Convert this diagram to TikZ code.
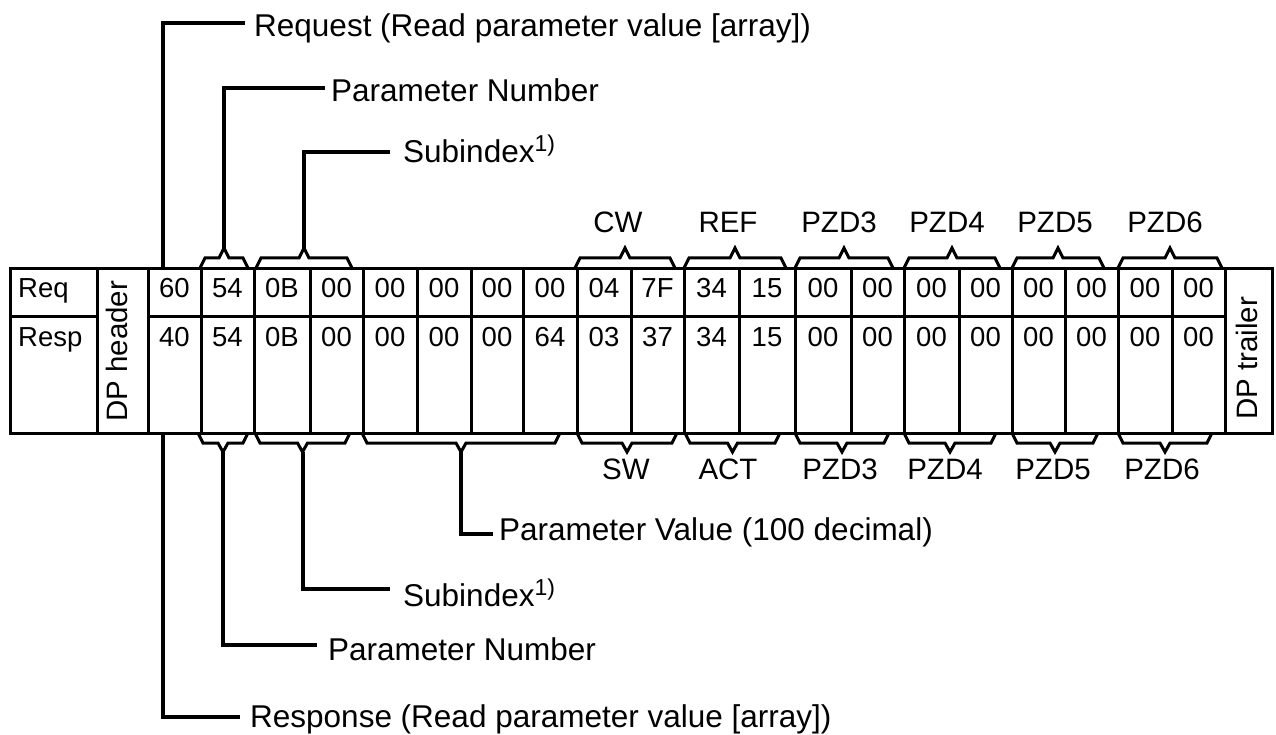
\documentclass[tikz,border=0pt]{standalone}
\usepackage{fontspec}
\setmainfont{Liberation Sans}
\newcommand\TopBrace[3]{%
  \pgfmathsetmacro\bmid{(#1+#2)/2}%
  \draw[brace] (#1,268) -- ++(5,-10) -- (\bmid-5,258) -- (\bmid,248) -- (\bmid+5,258) -- (#2-5,258) -- (#2,268);
  \coordinate (#3) at (\bmid,248);}
\newcommand\BotBrace[3]{%
  \pgfmathsetmacro\bmid{(#1+#2)/2}%
  \draw[brace] (#1,433) -- ++(5,10) -- (\bmid-5,443) -- (\bmid,452) -- (\bmid+5,443) -- (#2-5,443) -- (#2,433);
  \coordinate (#3) at (\bmid,452);}
\newcommand\supone{\raisebox{11pt}{\fontsize{23}{25}\selectfont 1)}}
\begin{document}
\begin{tikzpicture}[x=1pt,y=-1pt,
  grid/.style={line width=3pt},
  brace/.style={line width=3pt, line join=miter},
  leader/.style={line width=4pt, line join=miter},
  cell/.style={inner sep=0pt, anchor=base, font=\fontsize{27.5}{30}\selectfont},
  rowlab/.style={inner sep=0pt, anchor=base west, font=\fontsize{27.5}{30}\selectfont},
  blab/.style={inner sep=0pt, anchor=base, font=\fontsize{29.5}{32}\selectfont},
  callout/.style={inner sep=0pt, anchor=base west, font=\fontsize{31.5}{36}\selectfont},
  vlab/.style={inner sep=0pt, anchor=base west, rotate=90, font=\fontsize{29.5}{32}\selectfont}]
\useasboundingbox (0,0) rectangle (1276,735);
% table
\draw[grid] (10,268) rectangle (1272,433);
\foreach \x in {97,148,201,254,310,363,417,471,523,577,631,684,739,795,851,904,959,1012,1065,1118,1172,1225}
  \draw[grid] (\x,268) -- (\x,433);
\draw[grid] (10,316) -- (97,316);
\draw[grid] (148,316) -- (1225,316);
% row labels
\node[rowlab] (req) at (18,297) {Req};
\node[rowlab] (resp) at (18,346) {Resp};
\node[vlab] (dph) at (127,422) {DP header};
\node[vlab] (dpt) at (1257,420) {DP trailer};
% cell texts
\foreach \a/\b/\t/\u [count=\i] in {148/201/60/40,201/254/54/54,254/310/0B/0B,310/363/00/00,
  363/417/00/00,417/471/00/00,471/523/00/00,523/577/00/64,577/631/04/03,631/684/7F/37,
  684/739/34/34,739/795/15/15,795/851/00/00,851/904/00/00,904/959/00/00,959/1012/00/00,
  1012/1065/00/00,1065/1118/00/00,1118/1172/00/00,1172/1225/00/00}{
  \node[cell] (q\i) at ({(\a+\b)/2},297) {\t};
  \node[cell] (s\i) at ({(\a+\b)/2},346) {\u};
}
% top braces
\TopBrace{200}{248}{tPN}
\TopBrace{256}{352}{tSI}
\TopBrace{575}{675}{tCW}
\TopBrace{684}{786}{tREF}
\TopBrace{795}{893}{tP3}
\TopBrace{904}{1000}{tP4}
\TopBrace{1012}{1104}{tP5}
\TopBrace{1118}{1222}{tP6}
% bottom braces
\BotBrace{198}{248}{bPN}
\BotBrace{255}{350}{bSI}
\BotBrace{362}{560}{bPV}
\BotBrace{577}{677}{bSW}
\BotBrace{685}{780}{bACT}
\BotBrace{795}{889}{bP3}
\BotBrace{904}{996}{bP4}
\BotBrace{1012}{1098}{bP5}
\BotBrace{1118}{1212}{bP6}
% brace labels
\node[blab] (lCW) at (618,233) {CW};
\node[blab] (lREF) at (728,233) {REF};
\node[blab] (lP3t) at (839,233) {PZD3};
\node[blab] (lP4t) at (947,233) {PZD4};
\node[blab] (lP5t) at (1055,233) {PZD5};
\node[blab] (lP6t) at (1165,233) {PZD6};
\node[blab] (lSW) at (626,479) {SW};
\node[blab] (lACT) at (728,479) {ACT};
\node[blab] (lP3b) at (840,479) {PZD3};
\node[blab] (lP4b) at (945,479) {PZD4};
\node[blab] (lP5b) at (1053,479) {PZD5};
\node[blab] (lP6b) at (1162,479) {PZD6};
% callout texts
\node[callout] (reqT) at (254,36.5) {Request (Read parameter value [array])};
\node[callout] (pnT) at (331,101.5) {Parameter Number};
\node[callout] (siT) at (403,163) {Subindex\supone};
\node[callout] (pvB) at (499,540) {Parameter Value (100 decimal)};
\node[callout] (siB) at (403,606) {Subindex\supone};
\node[callout] (pnB) at (328,660) {Parameter Number};
\node[callout] (rspB) at (250,727) {Response (Read parameter value [array])};
% leader coordinates
\coordinate (reqA) at (163,268);
\coordinate (reqB) at (245,23);
\coordinate (pnTe) at (325,88);
\coordinate (siTe) at (390,152);
\coordinate (rspA) at (163,433);
\coordinate (rspB) at (240,717);
\coordinate (pnBe) at (317,645);
\coordinate (siBe) at (390,589);
\coordinate (pvBe) at (493,534);
% leaders
\draw[leader] (reqA) |- (reqB);
\draw[leader] (tPN) |- (pnTe);
\draw[leader] (tSI) |- (siTe);
\draw[leader] (rspA) |- (rspB);
\draw[leader] (bPN) |- (pnBe);
\draw[leader] (bSI) |- (siBe);
\draw[leader] (bPV) |- (pvBe);
\end{tikzpicture}
\end{document}
